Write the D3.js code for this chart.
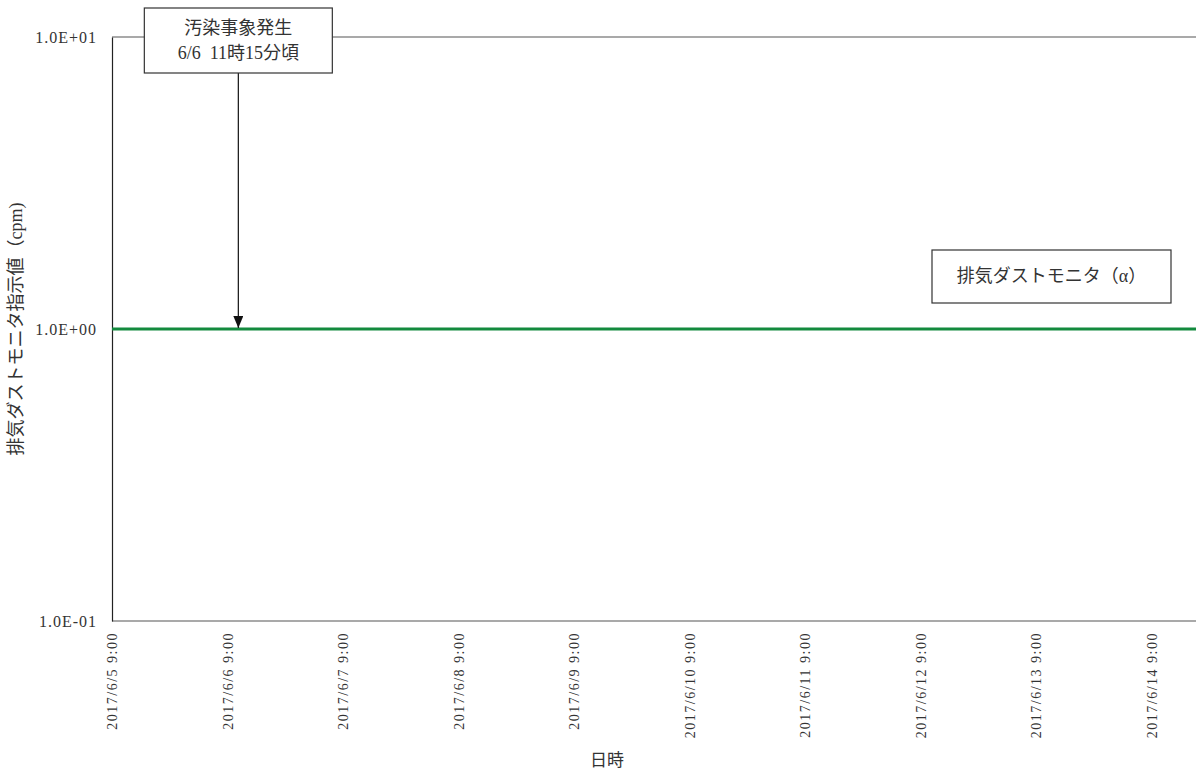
<!DOCTYPE html>
<html lang="ja">
<head>
<meta charset="utf-8">
<script src="https://cdn.jsdelivr.net/npm/d3@7"></script>
<style>
  html, body { margin: 0; padding: 0; background: #fff; overflow: hidden; }
  svg { display: block; }
  text { font-family: "Liberation Serif", "Noto Sans CJK JP", serif; fill: #333; }
</style>
</head>
<body>
<svg id="chart" width="1196" height="773"></svg>
<script>
// Dust monitor reading (cpm), sampled daily at 9:00
const times = [
  "2017-06-05T09:00", "2017-06-06T09:00", "2017-06-07T09:00", "2017-06-08T09:00",
  "2017-06-09T09:00", "2017-06-10T09:00", "2017-06-11T09:00", "2017-06-12T09:00",
  "2017-06-13T09:00", "2017-06-14T09:00", "2017-06-15T09:00"
];
const values = [1.0, 1.0, 1.0, 1.0, 1.0, 1.0, 1.0, 1.0, 1.0, 1.0, 1.0];
const seriesName = "排気ダストモニタ（α）";

const xTicks = [
  "2017-06-05T09:00", "2017-06-06T09:00", "2017-06-07T09:00", "2017-06-08T09:00",
  "2017-06-09T09:00", "2017-06-10T09:00", "2017-06-11T09:00", "2017-06-12T09:00",
  "2017-06-13T09:00", "2017-06-14T09:00"
];
const yTicks = [0.1, 1, 10];
const yTickLabels = ["1.0E-01", "1.0E+00", "1.0E+01"];

const eventTime = "2017-06-06T11:15";
const eventLines = ["汚染事象発生", "6/6  11時15分頃"];
const yTitle = "排気ダストモニタ指示値（cpm)";
const xTitle = "日時";

const parse = d3.timeParse("%Y-%m-%dT%H:%M");
const data = times.map((t, i) => ({ t: parse(t), v: values[i] }));

const svg = d3.select("#chart");
const plotLeft = 112, plotTop = 37, plotBottom = 621, plotRight = 1196;
const dayPx = 115.5;
const fontStack = '"Liberation Serif", "Noto Sans CJK JP", serif';

const x = d3.scaleTime()
  .domain([parse(times[0]), parse(times[times.length - 1])])
  .range([plotLeft, plotLeft + dayPx * (times.length - 1)]);
const y = d3.scaleLog().domain([0.1, 10]).range([plotBottom, plotTop]);

// Plot frame: grey top border and bottom axis, dark left axis
svg.append("line")
  .attr("x1", plotLeft).attr("x2", plotRight).attr("y1", plotTop).attr("y2", plotTop)
  .attr("stroke", "#8c8c8c").attr("stroke-width", 1.5);

const xAxis = d3.axisBottom(x)
  .tickValues(xTicks.map(parse))
  .tickSize(0)
  .tickFormat(d3.timeFormat("%Y/%-m/%-d %-H:%M"));
const gx = svg.append("g").attr("transform", `translate(0,${plotBottom})`).call(xAxis);
gx.select(".domain").attr("stroke", "#8c8c8c").attr("stroke-width", 1.5)
  .attr("d", `M${plotLeft},0H${plotRight}`);
gx.selectAll(".tick text")
  .attr("transform", "rotate(-90)")
  .attr("text-anchor", "end")
  .attr("x", -11).attr("y", 0).attr("dy", "0.35em")
  .style("font-size", "14px")
  .style("letter-spacing", "1.5px")
  .style("font-family", fontStack)
  .attr("fill", "#333");

const yAxis = d3.axisLeft(y)
  .tickValues(yTicks)
  .tickSize(0)
  .tickFormat((d, i) => yTickLabels[i]);
const gy = svg.append("g").attr("transform", `translate(${plotLeft},0)`).call(yAxis);
gy.select(".domain").attr("stroke", "#222").attr("stroke-width", 1.2);
gy.selectAll(".tick text")
  .attr("x", -15)
  .style("font-size", "16px")
  .style("letter-spacing", "1px")
  .style("font-family", fontStack)
  .attr("fill", "#333");

// Series line
svg.append("path")
  .datum(data)
  .attr("fill", "none")
  .attr("stroke", "#138a3e")
  .attr("stroke-width", 3.2)
  .attr("d", d3.line().x(d => x(d.t)).y(d => y(d.v)));

// Event annotation with arrow
svg.append("defs").append("marker")
  .attr("id", "arrowHead")
  .attr("viewBox", "0 0 10 12")
  .attr("refX", 5).attr("refY", 12)
  .attr("markerWidth", 10).attr("markerHeight", 12)
  .attr("markerUnits", "userSpaceOnUse")
  .attr("orient", "0")
  .append("path").attr("d", "M0,0L10,0L5,12Z").attr("fill", "#111");

const ex = x(parse(eventTime));
const boxW = 188, boxH = 65, boxTop = 8;
svg.append("line")
  .attr("x1", ex).attr("x2", ex)
  .attr("y1", boxTop + boxH).attr("y2", y(1) - 1)
  .attr("stroke", "#111").attr("stroke-width", 1.2)
  .attr("marker-end", "url(#arrowHead)");
svg.append("rect")
  .attr("x", ex - boxW / 2).attr("y", boxTop)
  .attr("width", boxW).attr("height", boxH)
  .attr("fill", "#fff").attr("stroke", "#333").attr("stroke-width", 1.2);
svg.append("g").selectAll("text").data(eventLines).join("text")
  .attr("x", ex).attr("y", (d, i) => boxTop + 22 + i * 25)
  .attr("text-anchor", "middle").attr("dominant-baseline", "middle")
  .style("font-size", "18px")
  .style("white-space", "pre")
  .text(d => d);

// Series label box
const lx = 932, ly = 250, lw = 239, lh = 53;
svg.append("rect")
  .attr("x", lx).attr("y", ly).attr("width", lw).attr("height", lh)
  .attr("fill", "#fff").attr("stroke", "#333").attr("stroke-width", 1.2);
svg.append("text")
  .attr("x", lx + lw / 2).attr("y", ly + lh / 2 + 1)
  .attr("text-anchor", "middle").attr("dominant-baseline", "middle")
  .style("font-size", "18px")
  .text(seriesName);

// Axis titles
svg.append("text")
  .attr("transform", `translate(18,${(plotTop + plotBottom) / 2}) rotate(-90)`)
  .attr("text-anchor", "middle").attr("dominant-baseline", "middle")
  .style("font-size", "18px")
  .text(yTitle);
svg.append("text")
  .attr("x", 607).attr("y", 762)
  .attr("text-anchor", "middle").attr("dominant-baseline", "middle")
  .style("font-size", "17px")
  .text(xTitle);
</script>
</body>
</html>
